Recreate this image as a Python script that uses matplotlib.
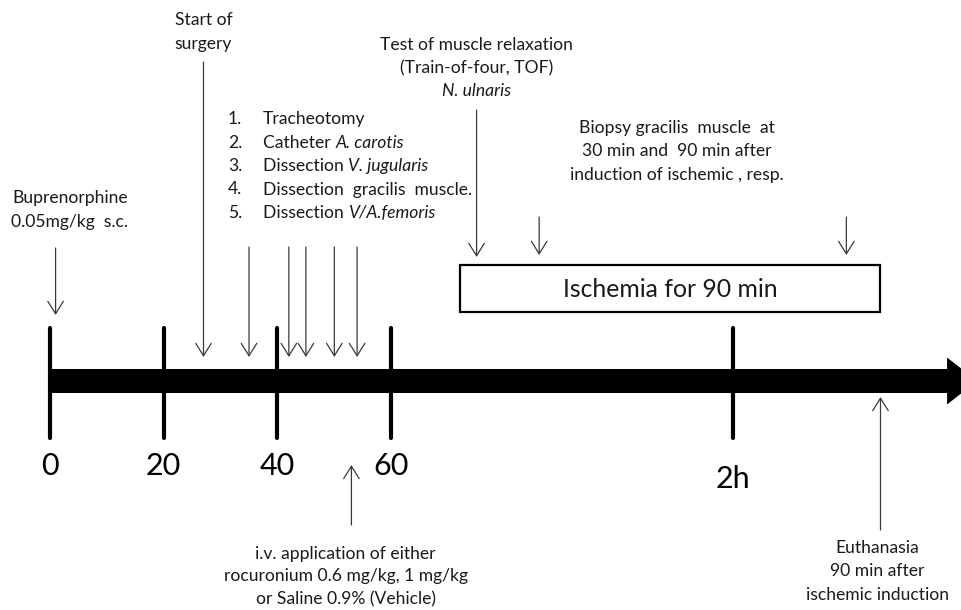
"""Experimental timeline: anaesthesia, surgery, ischemia and sampling."""
import matplotlib

matplotlib.use("Agg")
import matplotlib.pyplot as plt  # noqa: E402
from matplotlib.patches import Rectangle  # noqa: E402

plt.rcParams["font.family"] = ["Lato", "DejaVu Sans"]

# time axis (minutes)
tick_minutes = [0, 20, 40, 60, 120]
tick_labels = ["0", "20", "40", "60", "2h"]
timeline_end = 163

# events (minutes)
bup_time = 1
surgery_start = 27
procedure_times = [35, 42, 45, 50, 54]
procedure_steps = [
    [("Tracheotomy", "normal")],
    [("Catheter ", "normal"), ("A. carotis", "italic")],
    [("Dissection ", "normal"), ("V. jugularis", "italic")],
    [("Dissection  gracilis  muscle.", "normal")],
    [("Dissection ", "normal"), ("V/A.femoris", "italic")],
]
iv_time = 53
tof_time = 75
biopsy_times = [86, 140]
ischemia_start, ischemia_end = 72, 146
euthanasia_time = 146

INK = "#1a1a1a"
ARROW = "#3a3a3a"
SMALL = 12.6
LINE = 23.5  # line step in layout units (pixels)


def arrow(ax, t, y_from, y_to):
    ax.annotate("", xy=(t, y_to), xytext=(t, y_from),
                arrowprops=dict(arrowstyle="->,head_length=0.45,head_width=0.28",
                                lw=0.9, color=ARROW, shrinkA=0, shrinkB=0,
                                mutation_scale=20))


def centered(ax, t, baseline, lines, styles=None, step=LINE):
    for i, txt in enumerate(lines):
        st = styles[i] if styles else "normal"
        ax.text(t, baseline + i * step, txt, ha="center", va="baseline",
                fontsize=SMALL, color=INK, style=st)


fig = plt.figure(figsize=(9.61, 6.1), dpi=100)
ax = fig.add_axes([0, 0, 1, 1])
ax.set_xlim(-8.77, 160.15)
ax.set_ylim(610, 0)
ax.axis("off")

# main time arrow
ax.arrow(0, 381, timeline_end, 0, width=24, head_width=47, head_length=5.3,
         length_includes_head=True, fc="black", ec="black", lw=0)

ticks = ax.vlines(tick_minutes, 328, 438, lw=3, color="black")
ticks.set_capstyle("round")
for t, lab in zip(tick_minutes, tick_labels):
    ax.text(t, 488 if lab.endswith("h") else 475, lab, ha="center",
            va="baseline", fontsize=22, color="black")

# pre-surgery
arrow(ax, bup_time, 248, 315)
centered(ax, 3.5, 203.5, ["Buprenorphine", "0.05mg/kg  s.c."])

arrow(ax, surgery_start, 62, 357)
centered(ax, surgery_start, 25, ["Start of", "surgery"])

# surgical steps
for t in procedure_times:
    arrow(ax, t, 247, 357)
for i, segs in enumerate(procedure_steps):
    y = 124 + i * LINE
    ax.text(31.3, y, f"{i + 1}.", ha="left", va="baseline", fontsize=SMALL, color=INK)
    prev = None
    for txt, st in segs:
        if prev is None:
            prev = ax.text(37.5, y, txt, ha="left", va="baseline",
                           fontsize=SMALL, color=INK, style=st)
        else:
            prev = ax.annotate(txt, xy=(1, 0), xycoords=prev, ha="left",
                               va="bottom", fontsize=SMALL, color=INK, style=st)

# drug application
arrow(ax, iv_time, 525, 465)
centered(ax, 52.0, 559, ["i.v. application of either",
                         "rocuronium 0.6 mg/kg, 1 mg/kg",
                         "or Saline 0.9% (Vehicle)"], step=22.5)

# TOF
arrow(ax, tof_time, 110, 257)
centered(ax, tof_time, 49.5, ["Test of muscle relaxation",
                              "(Train-of-four, TOF)", "N. ulnaris"],
         ["normal", "normal", "italic"])

# ischemia
ax.add_patch(Rectangle((ischemia_start, 265), ischemia_end - ischemia_start, 47,
                       fill=False, lw=1.6, ec="black"))
ax.text((ischemia_start + ischemia_end) / 2, 297, "Ischemia for 90 min",
        ha="center", va="baseline", fontsize=17.8, color=INK)

for t in biopsy_times:
    arrow(ax, t, 217, 255)
centered(ax, 110.2, 133, ["Biopsy gracilis  muscle  at",
                          "30 min and  90 min after",
                          "induction of ischemic , resp."])

# end
arrow(ax, euthanasia_time, 530, 397)
centered(ax, euthanasia_time - 0.6, 553, ["Euthanasia", "90 min after",
                                          "ischemic induction"])

fig.savefig("out.png", dpi=100)
